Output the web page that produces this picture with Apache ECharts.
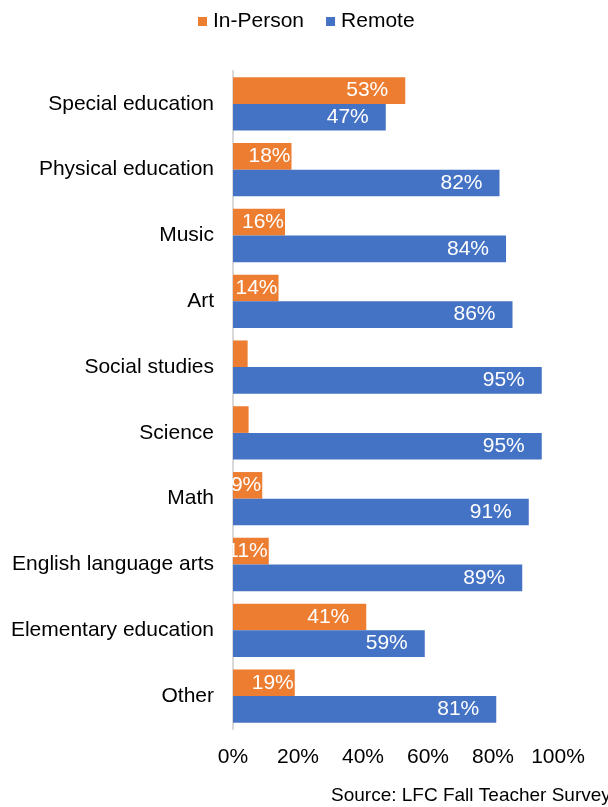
<!DOCTYPE html>
<html>
<head>
<meta charset="utf-8">
<script src="https://cdn.jsdelivr.net/npm/echarts@6/dist/echarts.min.js"></script>
<style>
  html, body { margin: 0; padding: 0; background: #fff; }
  #chart_container { width: 608px; height: 807px; }
</style>
</head>
<body>
<div id="chart_container"></div>
<script>
// data
var categories = ['Special education', 'Physical education', 'Music', 'Art', 'Social studies',
  'Science', 'Math', 'English language arts', 'Elementary education', 'Other'];
var inPerson = [53, 18, 16, 14, 4.5, 4.8, 9, 11, 41, 19];
var remote = [47, 82, 84, 86, 95, 95, 91, 89, 59, 81];
var xTicks = [0, 20, 40, 60, 80, 100];

var FONT = 'Liberation Sans, Arial, sans-serif';

// labels on narrow bars sit flush against the bar end, tiny ones are hidden
function labelled(values) {
  return values.map(function (v) {
    return {
      value: v,
      label: {
        show: v >= 6,
        distance: v < 20 ? 1 : 17
      }
    };
  });
}

var chart = echarts.init(document.getElementById('chart_container'));

var option = {
  animation: false,
  textStyle: { fontFamily: FONT },
  legend: {
    data: ['In-Person', 'Remote'],
    top: 6,
    left: 193,
    itemWidth: 9,
    itemHeight: 9,
    itemGap: 22,
    icon: 'rect',
    textStyle: { fontSize: 21, color: '#000', fontFamily: FONT, padding: [0, 0, 0, 1] }
  },
  grid: { left: 233, right: 50, top: 71, bottom: 78, containLabel: false },
  xAxis: {
    type: 'value',
    min: 0,
    max: 100,
    interval: 20,
    axisLine: { show: false },
    axisTick: { show: false },
    splitLine: { show: false },
    axisLabel: {
      fontSize: 21,
      color: '#000',
      fontFamily: FONT,
      margin: 18,
      formatter: function (v) { return xTicks.indexOf(v) >= 0 ? v + '%' : ''; }
    }
  },
  yAxis: {
    type: 'category',
    data: categories,
    inverse: true,
    axisLine: { show: true, lineStyle: { color: '#D9D9D9', width: 2 } },
    axisTick: { show: false },
    axisLabel: { fontSize: 21, color: '#000', fontFamily: FONT, margin: 19 }
  },
  series: [
    {
      name: 'In-Person',
      type: 'bar',
      data: labelled(inPerson),
      itemStyle: { color: '#ED7D31' },
      barGap: '0%',
      barCategoryGap: '19%',
      label: {
        show: true,
        position: 'insideRight',
        color: '#fff',
        fontSize: 21,
        fontFamily: FONT,
        formatter: function (p) { return Math.round(p.value) + '%'; }
      }
    },
    {
      name: 'Remote',
      type: 'bar',
      data: labelled(remote),
      itemStyle: { color: '#4472C4' },
      barGap: '0%',
      barCategoryGap: '19%',
      label: {
        show: true,
        position: 'insideRight',
        color: '#fff',
        fontSize: 21,
        fontFamily: FONT,
        formatter: function (p) { return Math.round(p.value) + '%'; }
      }
    }
  ],
  graphic: [
    {
      type: 'text',
      left: 331,
      top: 786,
      style: {
        text: 'Source: LFC Fall Teacher Survey',
        font: '19px ' + FONT,
        fill: '#000'
      }
    }
  ]
};

chart.setOption(option);
</script>
</body>
</html>
